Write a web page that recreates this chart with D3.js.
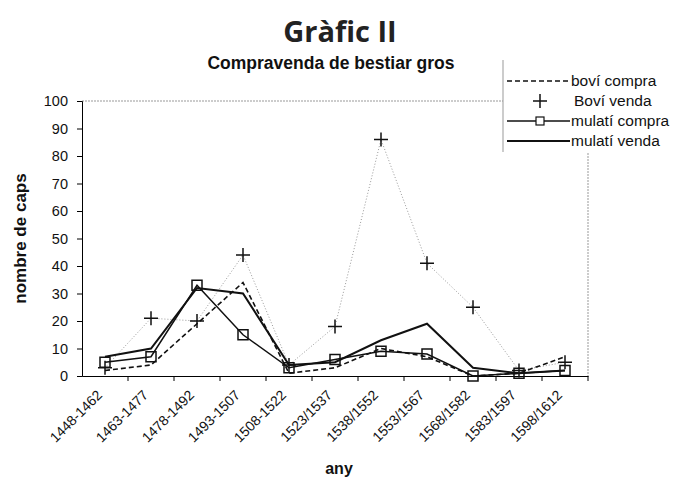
<!DOCTYPE html>
<html>
<head>
<meta charset="utf-8">
<script src="https://cdn.jsdelivr.net/npm/d3@7"></script>
<style>
  body { margin: 0; background: #fff; }
  svg { font-family: "Liberation Sans", Arial, sans-serif; }
</style>
</head>
<body>
<div id="chart"></div>
<script>
// Periodes (eix x)
const periodes = ["1448-1462", "1463-1477", "1478-1492", "1493-1507", "1508-1522",
  "1523/1537", "1538/1552", "1553/1567", "1568/1582", "1583/1597", "1598/1612"]

// Valors llegits del gràfic
const boviCompra   = [2, 4, 19, 34, 1, 3, 10, 7, 0, 1, 7]
const boviVenda    = [3, 21, 20, 44, 4, 18, 86, 41, 25, 2, 5]
const mulatiCompra = [5, 7, 33, 15, 3, 6, 9, 8, 0, 1, 2]
const mulatiVenda  = [7, 10, 32, 30, 4, 5, 13, 19, 3, 1, 2]

const yTicks = [0, 10, 20, 30, 40, 50, 60, 70, 80, 90, 100]
const legendItems = ["boví compra", "Boví venda", "mulatí compra", "mulatí venda"]

const W = 678, H = 480
const margin = { top: 101, right: 90, bottom: 104, left: 82 }
const width = W - margin.left - margin.right,
    height = H - margin.top - margin.bottom

const svg = d3.select("#chart")
    .append("svg")
    .attr("width", W)
    .attr("height", H)

const x = d3.scaleBand()
    .domain(periodes)
    .range([margin.left, margin.left + width])
    .padding(0)

const y = d3.scaleLinear()
    .domain([0, 100])
    .range([margin.top + height, margin.top])

const cx = d => x(d) + x.bandwidth() / 2

// titols
svg.append("text")
    .attr("x", 340).attr("y", 42)
    .attr("text-anchor", "middle")
    .style("font-family", "'Open Sans', sans-serif")
    .style("font-weight", "bold")
    .style("font-size", "29px")
    .style("fill", "#222")
    .text("Gràfic II")

svg.append("text")
    .attr("x", 331).attr("y", 69)
    .attr("text-anchor", "middle")
    .style("font-weight", "bold")
    .style("font-size", "17.5px")
    .style("fill", "#111")
    .text("Compravenda de bestiar gros")

// marc del gràfic (gris puntejat)
svg.append("path")
    .attr("d", `M${margin.left},${margin.top}H${margin.left + width}V${margin.top + height}`)
    .attr("fill", "none")
    .attr("stroke", "#999")
    .attr("stroke-dasharray", "2,1")

// eix y
const yAxis = svg.append("g")
    .attr("transform", `translate(${margin.left},0)`)
    .call(d3.axisLeft(y).tickValues(yTicks).tickSize(5).tickPadding(9))
yAxis.select(".domain").attr("stroke", "#000")
yAxis.selectAll("text").style("font-size", "14.5px").style("fill", "#111")

// eix x: etiquetes girades, marques als límits de les categories
const xAxis = svg.append("g")
    .attr("transform", `translate(0,${margin.top + height})`)
    .call(d3.axisBottom(x).tickSize(0).tickPadding(0))
xAxis.select(".domain").attr("stroke", "#000")
xAxis.selectAll(".tick text")
    .style("font-size", "14px")
    .style("fill", "#111")
    .attr("text-anchor", "end")
    .attr("dy", 0)
    .attr("transform", "translate(-2,20) rotate(-45)")

svg.append("g")
    .selectAll("line")
    .data(periodes.slice(1).concat(["__end"]))
    .join("line")
    .attr("x1", d => d === "__end" ? margin.left + width : x(d))
    .attr("x2", d => d === "__end" ? margin.left + width : x(d))
    .attr("y1", margin.top + height)
    .attr("y2", margin.top + height + 5)
    .attr("stroke", "#000")

// títols dels eixos
svg.append("text")
    .attr("transform", `translate(26,${margin.top + height / 2}) rotate(-90)`)
    .attr("text-anchor", "middle")
    .style("font-weight", "bold")
    .style("font-size", "17px")
    .style("fill", "#111")
    .text("nombre de caps")

svg.append("text")
    .attr("x", 339).attr("y", 474)
    .attr("text-anchor", "middle")
    .style("font-weight", "bold")
    .style("font-size", "16px")
    .style("fill", "#111")
    .text("any")

// línies
const line = d3.line()
    .x((d, i) => cx(periodes[i]))
    .y(d => y(d))

const plot = svg.append("g")

plot.append("path").datum(boviVenda)
    .attr("d", line)
    .attr("fill", "none")
    .attr("stroke", "#999")
    .attr("stroke-width", 1)
    .attr("stroke-dasharray", "1,2")

plot.append("path").datum(boviCompra)
    .attr("d", line)
    .attr("fill", "none")
    .attr("stroke", "#111")
    .attr("stroke-width", 1.6)
    .attr("stroke-dasharray", "5,3")

plot.append("path").datum(mulatiVenda)
    .attr("d", line)
    .attr("fill", "none")
    .attr("stroke", "#111")
    .attr("stroke-width", 2)

plot.append("path").datum(mulatiCompra)
    .attr("d", line)
    .attr("fill", "none")
    .attr("stroke", "#111")
    .attr("stroke-width", 1.5)

// marcadors
const plus = "M-7,0H7M0,-7V7"
plot.selectAll(".plus")
    .data(boviVenda)
    .join("path")
    .attr("class", "plus")
    .attr("transform", (d, i) => `translate(${cx(periodes[i])},${y(d)})`)
    .attr("d", plus)
    .attr("stroke", "#111")
    .attr("stroke-width", 1.5)

plot.selectAll(".sq")
    .data(mulatiCompra)
    .join("rect")
    .attr("class", "sq")
    .attr("x", (d, i) => cx(periodes[i]) - 5)
    .attr("y", d => y(d) - 5)
    .attr("width", 10).attr("height", 10)
    .attr("fill", "none")
    .attr("stroke", "#111")
    .attr("stroke-width", 1.5)

// llegenda
svg.append("rect")
    .attr("x", 503).attr("y", 60)
    .attr("width", 180).attr("height", 92)
    .attr("fill", "#fff")
const legend = svg.append("g")
legend.append("line")
    .attr("x1", 503).attr("x2", 503)
    .attr("y1", 60).attr("y2", 152)
    .attr("stroke", "#999")

const ly = i => 81 + i * 20

legend.append("line")
    .attr("x1", 507).attr("x2", 570).attr("y1", ly(0)).attr("y2", ly(0))
    .attr("stroke", "#111").attr("stroke-width", 1.6).attr("stroke-dasharray", "5,3")
legend.append("path")
    .attr("transform", `translate(540,${ly(1)})`)
    .attr("d", plus).attr("stroke", "#111").attr("stroke-width", 1.5)
legend.append("line")
    .attr("x1", 507).attr("x2", 570).attr("y1", ly(2)).attr("y2", ly(2))
    .attr("stroke", "#111").attr("stroke-width", 1.5)
legend.append("rect")
    .attr("x", 536).attr("y", ly(2) - 4).attr("width", 8).attr("height", 8)
    .attr("fill", "#fff").attr("stroke", "#111").attr("stroke-width", 1.2)
legend.append("line")
    .attr("x1", 507).attr("x2", 570).attr("y1", ly(3)).attr("y2", ly(3))
    .attr("stroke", "#111").attr("stroke-width", 2)

legend.selectAll(".lt")
    .data(legendItems)
    .join("text")
    .attr("class", "lt")
    .attr("x", (d, i) => i === 1 ? 574 : 571)
    .attr("y", (d, i) => ly(i) + 5)
    .style("font-size", "15.5px")
    .style("fill", "#111")
    .text(d => d)
</script>
</body>
</html>
